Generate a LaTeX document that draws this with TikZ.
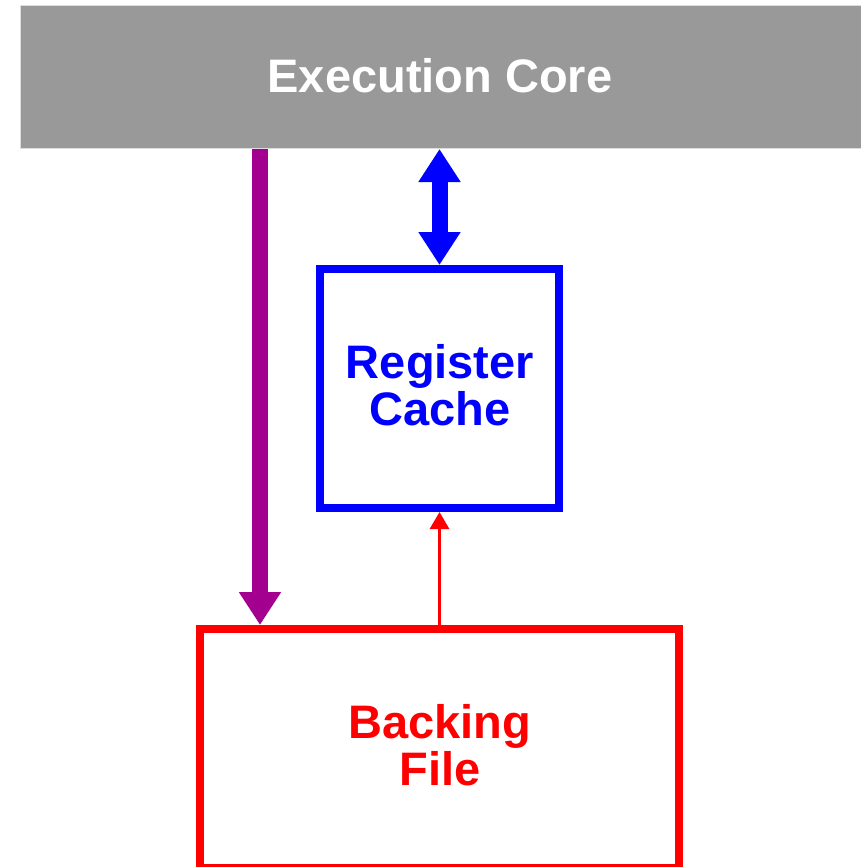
\documentclass[tikz,border=0pt]{standalone}
\usepackage{fontspec}
\setmainfont{Liberation Sans}
\usetikzlibrary{arrows.meta}
\definecolor{coregray}{HTML}{999999}
\definecolor{coreedge}{HTML}{DDDDDD}
\definecolor{purp}{HTML}{A30090}
\definecolor{blu}{HTML}{0000FF}
\definecolor{rd}{HTML}{FF0000}
\begin{document}
\begin{tikzpicture}[x=1pt,y=-1pt,
  lbl/.style={font=\fontsize{47}{46.5}\selectfont\bfseries, align=center, inner sep=0pt},
  boxstyle/.style={draw, line width=8pt, rectangle, inner sep=0pt}]
\useasboundingbox (0,0) rectangle (861,867);
\node[fill=coregray, draw=coreedge, line width=1pt, rectangle, inner sep=0pt,
      minimum width=841pt, minimum height=143pt, anchor=north west] (core) at (20,5) {};
\node[lbl, text=white] (coretext) at (440,76) {Execution Core};
\node[boxstyle, draw=blu, minimum width=239pt, minimum height=239pt] (reg) at (439.5,388.5) {};
\node[lbl, text=blu] (regtext) at (440,385) {Register\\Cache};
\node[boxstyle, draw=rd, minimum width=479pt, minimum height=239pt] (back) at (439.5,748.5) {};
\node[lbl, text=rd] (backtext) at (440,745) {Backing\\File};
\draw[purp, line width=16pt, -{Triangle[width=40pt,length=33pt]}]
  (core.south -| 260,0) -- (back.north -| 260,0);
\draw[blu, line width=16pt, {Triangle[width=40pt,length=33pt]}-{Triangle[width=40pt,length=33pt]}]
  (core.south -| reg.north) -- (reg.north);
\draw[rd, line width=3pt, -{Triangle[width=19pt,length=17pt]}]
  (back.north -| reg.south) -- (reg.south);
\end{tikzpicture}
\end{document}
